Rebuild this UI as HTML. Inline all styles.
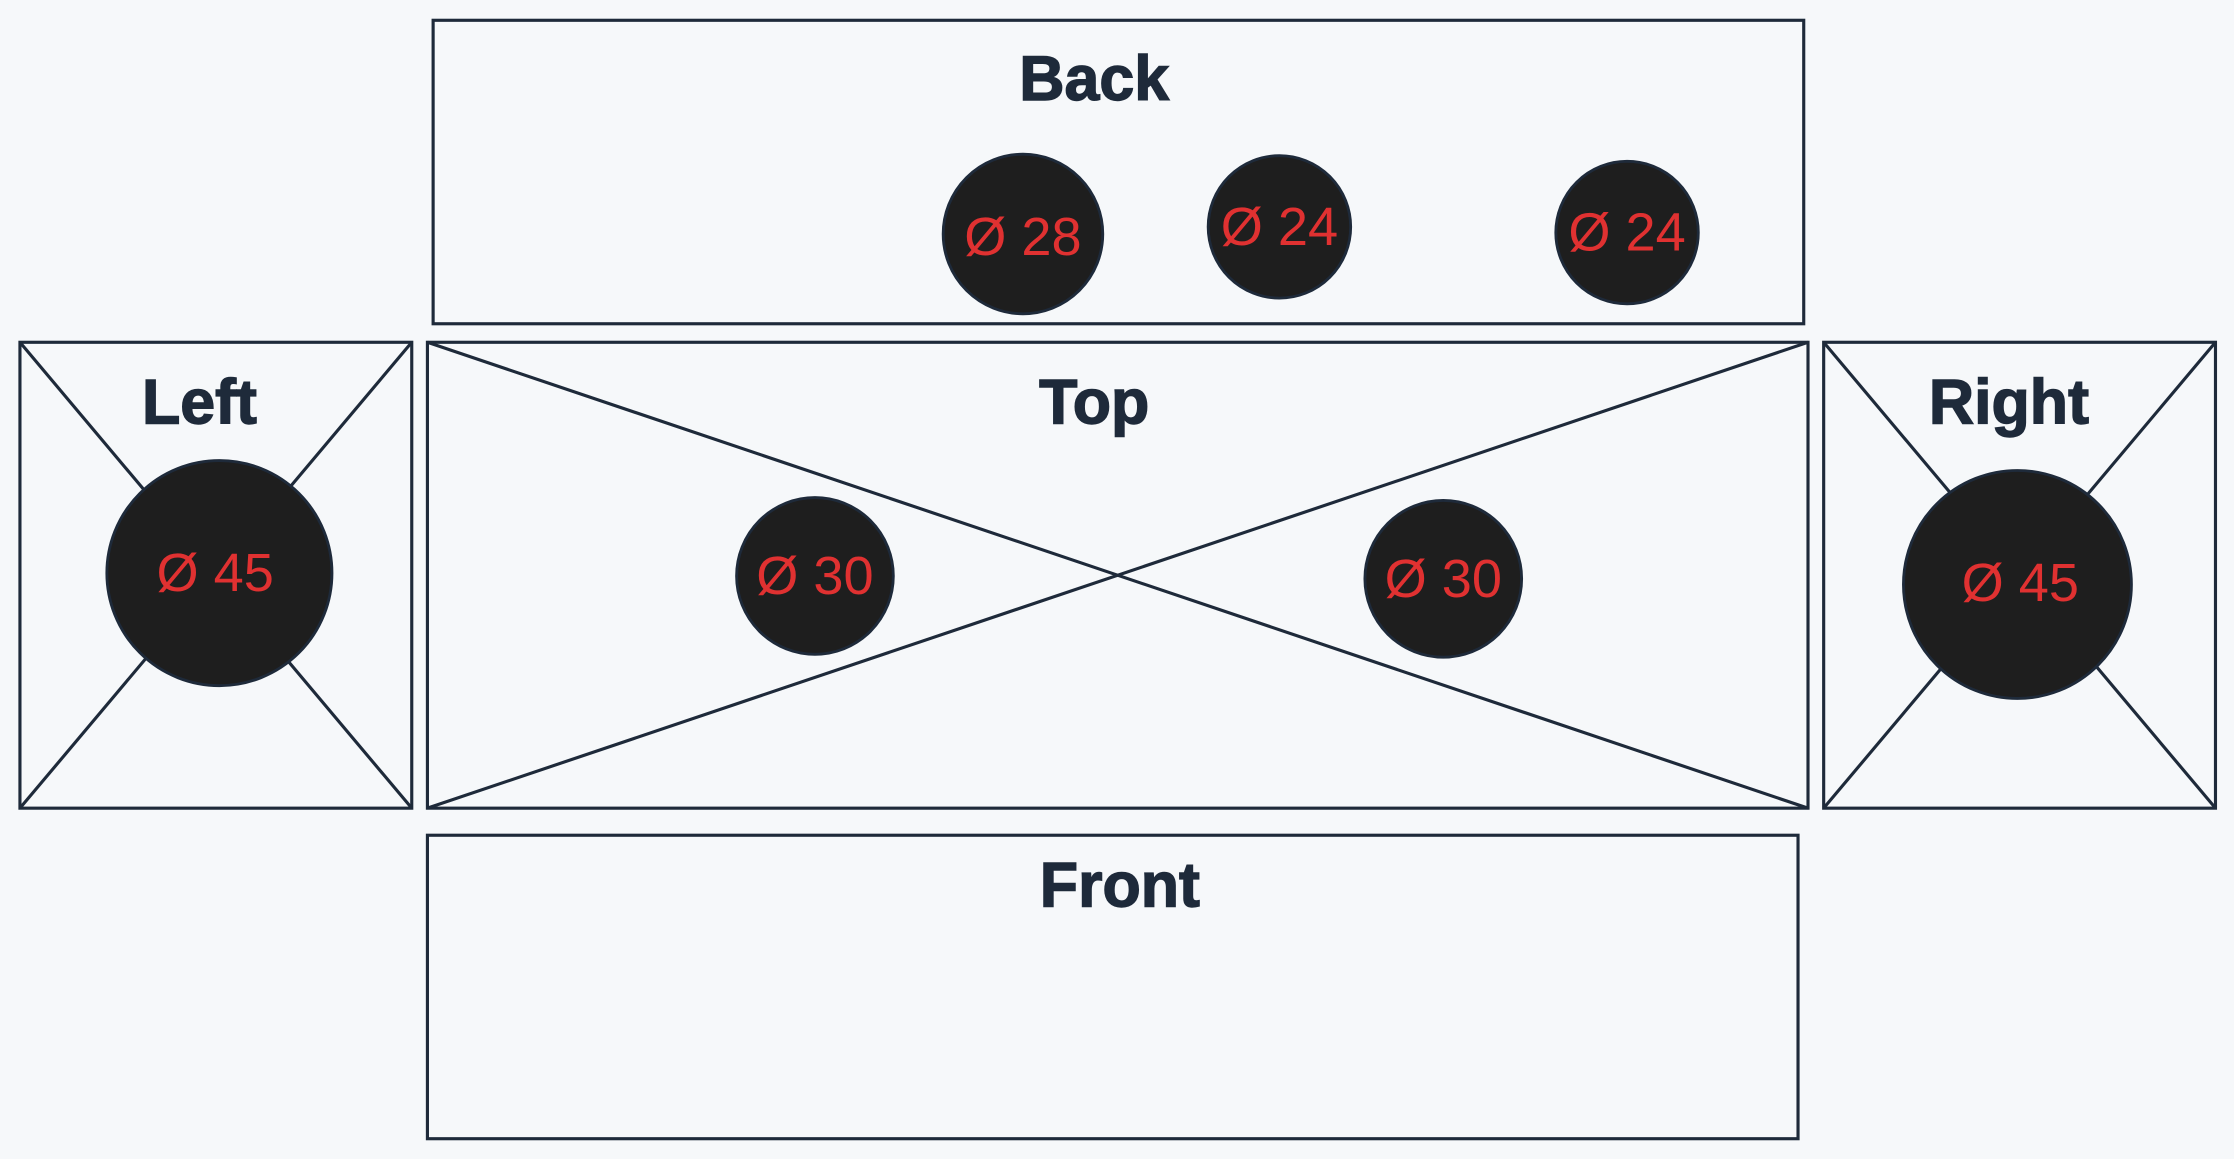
<!DOCTYPE html>
<html>
<head>
<meta charset="utf-8">
<style>
html,body{margin:0;padding:0;background:#f6f8fa;}
svg{display:block;}
.lbl{font-family:"Liberation Sans","DejaVu Sans",sans-serif;font-size:44px;fill:#1e2a3a;stroke:#1e2a3a;stroke-width:1;text-anchor:middle;font-weight:bold;}
.dia{font-family:"Liberation Sans","DejaVu Sans",sans-serif;font-size:38px;fill:#e03131;text-anchor:middle;dominant-baseline:central;}
.box{fill:none;stroke:#1e2a3a;stroke-width:2.2;}
.hole{fill:#1e1e1e;stroke:#1e2a3a;stroke-width:2;}
</style>
</head>
<body>
<svg width="2234" height="1159" viewBox="0 0 1568 813" xmlns="http://www.w3.org/2000/svg">
<rect width="1568" height="813" fill="#f6f8fa"/>
<g>
<rect class="box" x="304" y="14" width="962" height="213"/>
<text class="lbl" x="768" y="70">Back</text>
</g>
<g>
<rect class="box" x="14" y="240" width="275" height="327"/>
<line class="box" x1="14" y1="240" x2="289" y2="567"/>
<line class="box" x1="289" y1="240" x2="14" y2="567"/>
<text class="lbl" x="140" y="297">Left</text>
</g>
<g>
<rect class="box" x="300" y="240" width="969" height="327"/>
<line class="box" x1="300" y1="240" x2="1269" y2="567"/>
<line class="box" x1="1269" y1="240" x2="300" y2="567"/>
<text class="lbl" x="768" y="297">Top</text>
</g>
<g>
<rect class="box" x="1280" y="240" width="275" height="327"/>
<line class="box" x1="1280" y1="240" x2="1555" y2="567"/>
<line class="box" x1="1555" y1="240" x2="1280" y2="567"/>
<text class="lbl" x="1410" y="297">Right</text>
</g>
<g>
<rect class="box" x="300" y="586" width="962" height="213"/>
<text class="lbl" x="786" y="636">Front</text>
</g>
<g><circle class="hole" cx="718" cy="164" r="56"/><text class="dia" x="718" y="166">Ø 28</text></g>
<g><circle class="hole" cx="898" cy="159" r="50"/><text class="dia" x="898" y="159">Ø 24</text></g>
<g><circle class="hole" cx="1142" cy="163" r="50"/><text class="dia" x="1142" y="163">Ø 24</text></g>
<g><circle class="hole" cx="154" cy="402" r="79"/><text class="dia" x="151" y="402">Ø 45</text></g>
<g><circle class="hole" cx="572" cy="404" r="55"/><text class="dia" x="572" y="404">Ø 30</text></g>
<g><circle class="hole" cx="1013" cy="406" r="55"/><text class="dia" x="1013" y="406">Ø 30</text></g>
<g><circle class="hole" cx="1416" cy="410" r="80"/><text class="dia" x="1418" y="409">Ø 45</text></g>
</svg>
</body>
</html>
